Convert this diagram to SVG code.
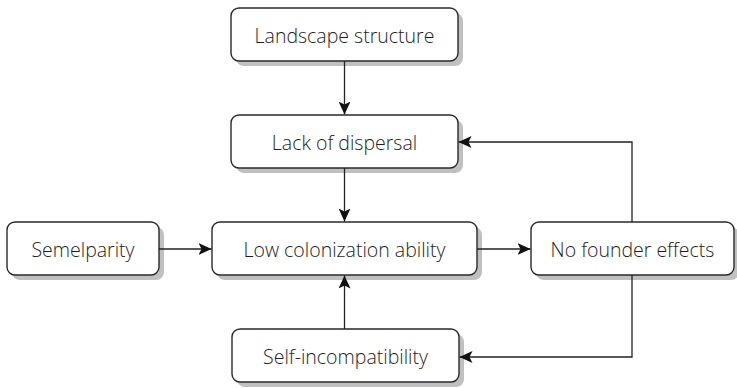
<svg xmlns="http://www.w3.org/2000/svg" width="737" height="388" viewBox="0 0 737 388">
<defs>
<style>
.box{fill:#fff;stroke:#2a2a2a;stroke-width:1.4}
.sh{fill:#c0c0c2}
.t{font-family:"Open Sans","Noto Sans",sans-serif;font-size:19.5px;font-weight:300;fill:#1e1e1e;text-anchor:middle;dominant-baseline:central}
.c{fill:none;stroke:#222;stroke-width:1.3}
</style>
<marker id="ah" markerWidth="14" markerHeight="12" viewBox="0 0 14 12" refX="13" refY="6" orient="auto" markerUnits="userSpaceOnUse">
<path d="M0,0 L13,6 L0,12 L3,6 Z" fill="#111"/>
</marker>
</defs>
<rect width="737" height="388" fill="#fff"/>
<g id="landscape">
<rect class="sh" x="236" y="13" width="227" height="53" rx="8"/>
<rect class="box" x="231" y="8" width="227" height="53" rx="8"/>
<text class="t" x="344.5" y="35">Landscape structure</text>
</g>
<g id="lack">
<rect class="sh" x="236" y="120" width="227" height="53" rx="8"/>
<rect class="box" x="231" y="115" width="227" height="53" rx="8"/>
<text class="t" x="344.5" y="142">Lack of dispersal</text>
</g>
<g id="semelparity">
<rect class="sh" x="12" y="227" width="152" height="53" rx="8"/>
<rect class="box" x="7" y="222" width="152" height="53" rx="8"/>
<text class="t" x="83" y="249">Semelparity</text>
</g>
<g id="lowcol">
<rect class="sh" x="217" y="227" width="265" height="53" rx="8"/>
<rect class="box" x="212" y="222" width="265" height="53" rx="8"/>
<text class="t" x="344.5" y="249">Low colonization ability</text>
</g>
<g id="nofounder">
<rect class="sh" x="536" y="227" width="203" height="53" rx="8"/>
<rect class="box" x="531" y="222" width="203" height="53" rx="8"/>
<text class="t" x="632.5" y="249">No founder effects</text>
</g>
<g id="selfincomp">
<rect class="sh" x="237" y="334" width="227" height="53" rx="8"/>
<rect class="box" x="232" y="329" width="227" height="53" rx="8"/>
<text class="t" x="345.5" y="356">Self-incompatibility</text>
</g>
<g id="connectors">
<path class="c" d="M344.5,61 V114.5" marker-end="url(#ah)"/>
<path class="c" d="M344.5,168 V221.5" marker-end="url(#ah)"/>
<path class="c" d="M159,249 H211.5" marker-end="url(#ah)"/>
<path class="c" d="M477,249 H530.5" marker-end="url(#ah)"/>
<path class="c" d="M344.5,329 V275.5" marker-end="url(#ah)"/>
<path class="c" d="M632,222 V142 H458.5" marker-end="url(#ah)"/>
<path class="c" d="M632,275 V357 H459.5" marker-end="url(#ah)"/>
</g>
</svg>
